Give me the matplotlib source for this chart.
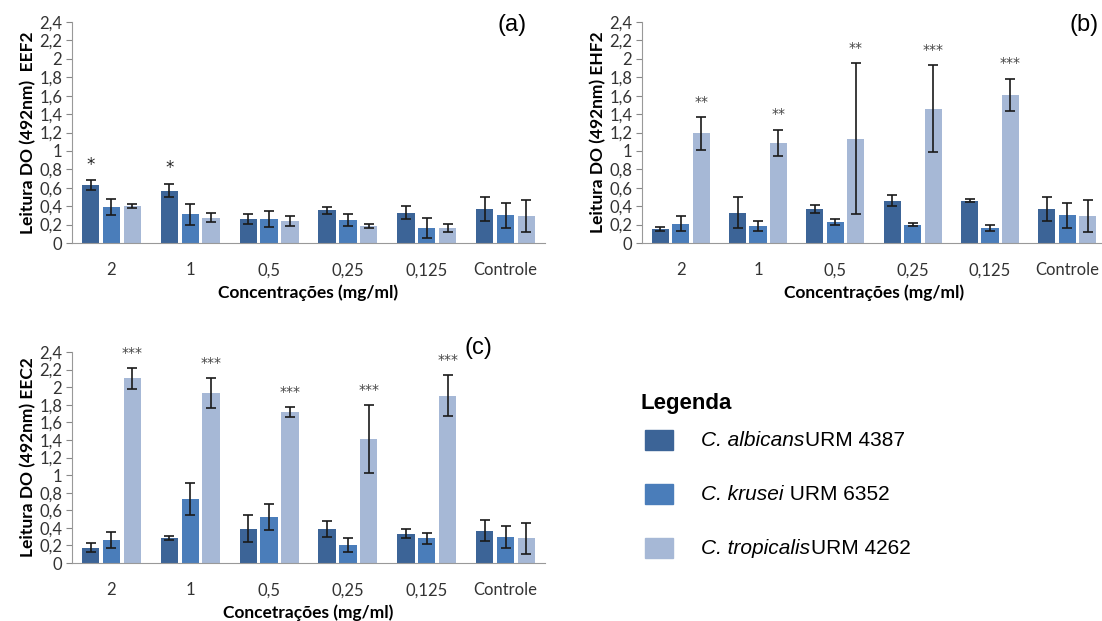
import numpy as np
import matplotlib
matplotlib.use("Agg")
import matplotlib.pyplot as plt
from matplotlib.patches import Rectangle

categories = ["2", "1", "0,5", "0,25", "0,125", "Controle"]
series_names = ["albicans", "krusei", "tropicalis"]
colors = ["#3C6497", "#4A7DBA", "#A6B8D6"]

# panel (a) EEF2
a_mean = [[0.63, 0.57, 0.26, 0.355, 0.33, 0.365],
          [0.39, 0.31, 0.26, 0.25, 0.165, 0.30],
          [0.40, 0.275, 0.24, 0.185, 0.165, 0.29]]
a_err = [[0.05, 0.07, 0.05, 0.04, 0.07, 0.13],
         [0.09, 0.11, 0.09, 0.07, 0.11, 0.135],
         [0.025, 0.05, 0.05, 0.02, 0.045, 0.175]]
a_sig = [["*", "*", "", "", "", ""], ["", "", "", "", "", ""], ["", "", "", "", "", ""]]

# panel (b) EHF2
b_mean = [[0.15, 0.33, 0.37, 0.46, 0.46, 0.365],
          [0.21, 0.185, 0.23, 0.20, 0.165, 0.30],
          [1.19, 1.09, 1.13, 1.46, 1.61, 0.29]]
b_err = [[0.02, 0.17, 0.045, 0.06, 0.02, 0.13],
         [0.08, 0.05, 0.035, 0.015, 0.035, 0.135],
         [0.175, 0.14, 0.82, 0.47, 0.175, 0.175]]
b_sig = [["", "", "", "", "", ""], ["", "", "", "", "", ""],
         ["**", "**", "**", "***", "***", ""]]

# panel (c) EEC2
c_mean = [[0.175, 0.285, 0.39, 0.39, 0.335, 0.365],
          [0.26, 0.725, 0.525, 0.20, 0.28, 0.295],
          [2.10, 1.935, 1.715, 1.41, 1.905, 0.28]]
c_err = [[0.055, 0.02, 0.155, 0.09, 0.05, 0.12],
         [0.09, 0.18, 0.15, 0.08, 0.065, 0.125],
         [0.12, 0.17, 0.06, 0.385, 0.235, 0.175]]
c_sig = [["", "", "", "", "", ""], ["", "", "", "", "", ""],
         ["***", "***", "***", "***", "***", ""]]

legend_labels = [("C. albicans", "URM 4387"), ("C. krusei", " URM 6352"), ("C. tropicalis", "URM 4262")]
yticks = np.arange(0, 2.41, 0.2)
ytick_labels = ["0" if v == 0 else ("%g" % round(v, 1)).replace(".", ",") for v in yticks]

plt.rcParams["font.family"] = ["Lato", "DejaVu Sans"]

W, H = 1102, 621
fig = plt.figure(figsize=(W / 100, H / 100), dpi=100)


def panel(rect, means, errs, sigs, ylabel, xlabel):
    l, b, r, t = rect
    ax = fig.add_axes([l / W, 1 - b / H, (r - l) / W, (b - t) / H])
    x = np.arange(len(categories))
    bw, pitch = 0.22, 0.265
    for i in range(3):
        xs = x + (i - 1) * pitch
        ax.bar(xs, means[i], bw, color=colors[i], zorder=2)
        ax.errorbar(xs, means[i], yerr=errs[i], fmt="none", ecolor="#1a1a1a",
                    elinewidth=1.2, capsize=3.5, capthick=1.2, zorder=3)
        for j, s in enumerate(sigs[i]):
            if s:
                big = s == "*"
                ax.text(xs[j], means[i][j] + errs[i][j] + 0.17, s, ha="center", va="center",
                        fontsize=12 if big else 10, color="#222222" if big else "#444444",
                        family="DejaVu Sans")
    ax.set_xlim(-0.5, len(categories) - 0.5)
    ax.set_ylim(0, 2.4)
    ax.set_yticks(yticks)
    ax.set_yticklabels(ytick_labels, fontsize=12, color="#333333")
    ax.set_xticks(x)
    ax.set_xticklabels(categories, fontsize=12, color="#333333")
    ax.tick_params(axis="x", length=0, pad=14)
    ax.tick_params(axis="y", length=4, color="#888888", pad=3)
    for s in ["top", "right"]:
        ax.spines[s].set_visible(False)
    ax.spines["left"].set_color("#999999")
    ax.spines["bottom"].set_color("#999999")
    ax.set_ylabel(ylabel, fontsize=12.5, fontweight="bold", labelpad=2)
    ax.set_xlabel(xlabel, fontsize=12.5, fontweight="bold", labelpad=4)
    return ax


panel((72, 243, 545, 22), a_mean, a_err, a_sig, "Leitura DO (492nm)  EEF2", "Concentrações (mg/ml)")
panel((642, 243, 1106, 22), b_mean, b_err, b_sig, "Leitura DO (492nm) EHF2", "Concentrações (mg/ml)")
panel((72, 563, 545, 352), c_mean, c_err, c_sig, "Leitura DO (492nm) EEC2", "Concetrações (mg/ml)")

fig.text(512 / W, 1 - 25 / H, "(a)", fontsize=17, ha="center", va="center", family="Liberation Sans")
fig.text(1084 / W, 1 - 25 / H, "(b)", fontsize=17, ha="center", va="center", family="Liberation Sans")
fig.text(478 / W, 1 - 348 / H, "(c)", fontsize=17, ha="center", va="center", family="Liberation Sans")

# legend box
fig.text(640 / W, 1 - 404 / H, "Legenda", fontsize=16, fontweight="bold", va="center",
         family="Liberation Sans")
for i, (sp, strain) in enumerate(legend_labels):
    yc = 440 + i * 54
    fig.patches.append(Rectangle((645 / W, 1 - (yc + 10) / H), 28 / W, 20 / H,
                                 transform=fig.transFigure, color=colors[i]))
    t = fig.text(701 / W, 1 - yc / H, sp, fontsize=15, style="italic", va="center",
                 family="Liberation Sans")
    fig.canvas.draw()
    bb = t.get_window_extent()
    fig.text(bb.x1 / W + 1 / W, 1 - yc / H, strain, fontsize=15, va="center",
             family="Liberation Sans")

fig.savefig("out.png", dpi=100)
